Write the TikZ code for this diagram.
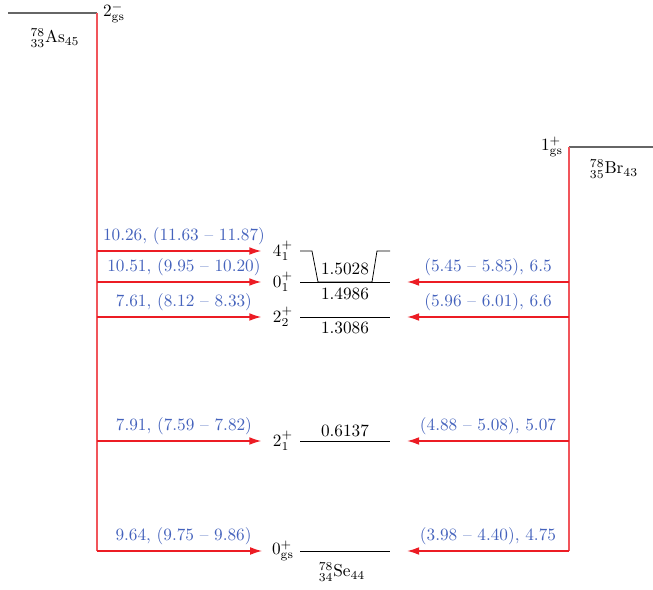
\documentclass[tikz,border=0pt]{standalone}
\usepackage{tikz}
\usetikzlibrary{arrows.meta, positioning}
\definecolor{qblue}{RGB}{68,98,188}
\definecolor{feedred}{RGB}{236,28,36}

\begin{document}
\begin{tikzpicture}[x=0.58pt, y=-0.58pt,
    level/.style={draw, line width=0.45pt},
    parent/.style={draw=black!60, line width=0.6pt},
    betaline/.style={draw=feedred!75, line width=0.8pt},
    feed/.style={draw=feedred, fill=feedred, line width=0.9pt, -{Latex[length=7pt,width=4.5pt]}},
    spin/.style={inner sep=1pt},
    qval/.style={text=qblue, midway, above}]
    \useasboundingbox (0,0) rectangle (653,590);

    % parent nuclei
    \draw[parent] (8,13) -- (97,13);
    \node [right] (asspin) at (97,13) {$2^-_{\mathrm{gs}}$};
    \node (as) at (55,38) {${}^{78}_{33}\mathrm{As}_{45}$};
    \draw[parent] (569,147) -- (653,147);
    \node [left] (brspin) at (569,147) {$1^+_{\mathrm{gs}}$};
    \node (br) at (614,169) {${}^{78}_{35}\mathrm{Br}_{43}$};

    % daughter levels
    \node [spin] (jfour) at (283,251) {$4^+_1$};
    \node [spin] (jzero) at (283,282) {$0^+_1$};
    \node [spin] (jtwob) at (283,317) {$2^+_2$};
    \node [spin] (jtwoa) at (283,441) {$2^+_1$};
    \node [spin] (jgs) at (283,551) {$0^+_{\mathrm{gs}}$};

    \draw[level] (300,251) -- (312,251) -- (318,282) -- (372,282) -- (377,251) -- (390,251);
    \draw[level] (300,282) -- (390,282);
    \draw[level] (300,317) -- (390,317);
    \draw[level] (300,441) -- (390,441);
    \draw[level] (300,551) -- (390,551);

    \node (efour) at (345,269) {1.5028};
    \node (ezero) at (345,294) {1.4986};
    \node (etwob) at (345,328) {1.3086};
    \node (etwoa) at (345,431) {0.6137};
    \node (se) at (342,572) {${}^{78}_{34}\mathrm{Se}_{44}$};

    % feeding from As
    \coordinate (atop) at (97,13);
    \coordinate (a4) at (97,251);
    \coordinate (a0) at (97,282);
    \coordinate (a2b) at (97,317);
    \coordinate (a2a) at (97,441);
    \coordinate (ags) at (97,551);
    \draw[betaline] (atop) -- (ags);
    \draw[feed, shorten >=5.5pt] (a4) -- (jfour) node[qval] {10.26, (11.63 -- 11.87)};
    \draw[feed, shorten >=5.5pt] (a0) -- (jzero) node[qval] {10.51, (9.95 -- 10.20)};
    \draw[feed, shorten >=5.5pt] (a2b) -- (jtwob) node[qval] {7.61, (8.12 -- 8.33)};
    \draw[feed, shorten >=5.5pt] (a2a) -- (jtwoa) node[qval] {7.91, (7.59 -- 7.82)};
    \draw[feed, shorten >=4.5pt] (ags) -- (jgs) node[qval] {9.64, (9.75 -- 9.86)};

    % feeding from Br
    \coordinate (btop) at (569,147);
    \coordinate (b0) at (569,282);
    \coordinate (b2b) at (569,317);
    \coordinate (b2a) at (569,441);
    \coordinate (bgs) at (569,551);
    \coordinate (c0) at (407,282);
    \coordinate (c2b) at (407,317);
    \coordinate (c2a) at (407,441);
    \coordinate (cgs) at (407,551);
    \draw[betaline] (btop) -- (bgs);
    \draw[feed] (b0) -- (c0) node[qval] {(5.45 -- 5.85), 6.5};
    \draw[feed] (b2b) -- (c2b) node[qval] {(5.96 -- 6.01), 6.6};
    \draw[feed] (b2a) -- (c2a) node[qval] {(4.88 -- 5.08), 5.07};
    \draw[feed] (bgs) -- (cgs) node[qval] {(3.98 -- 4.40), 4.75};
\end{tikzpicture}
\end{document}
